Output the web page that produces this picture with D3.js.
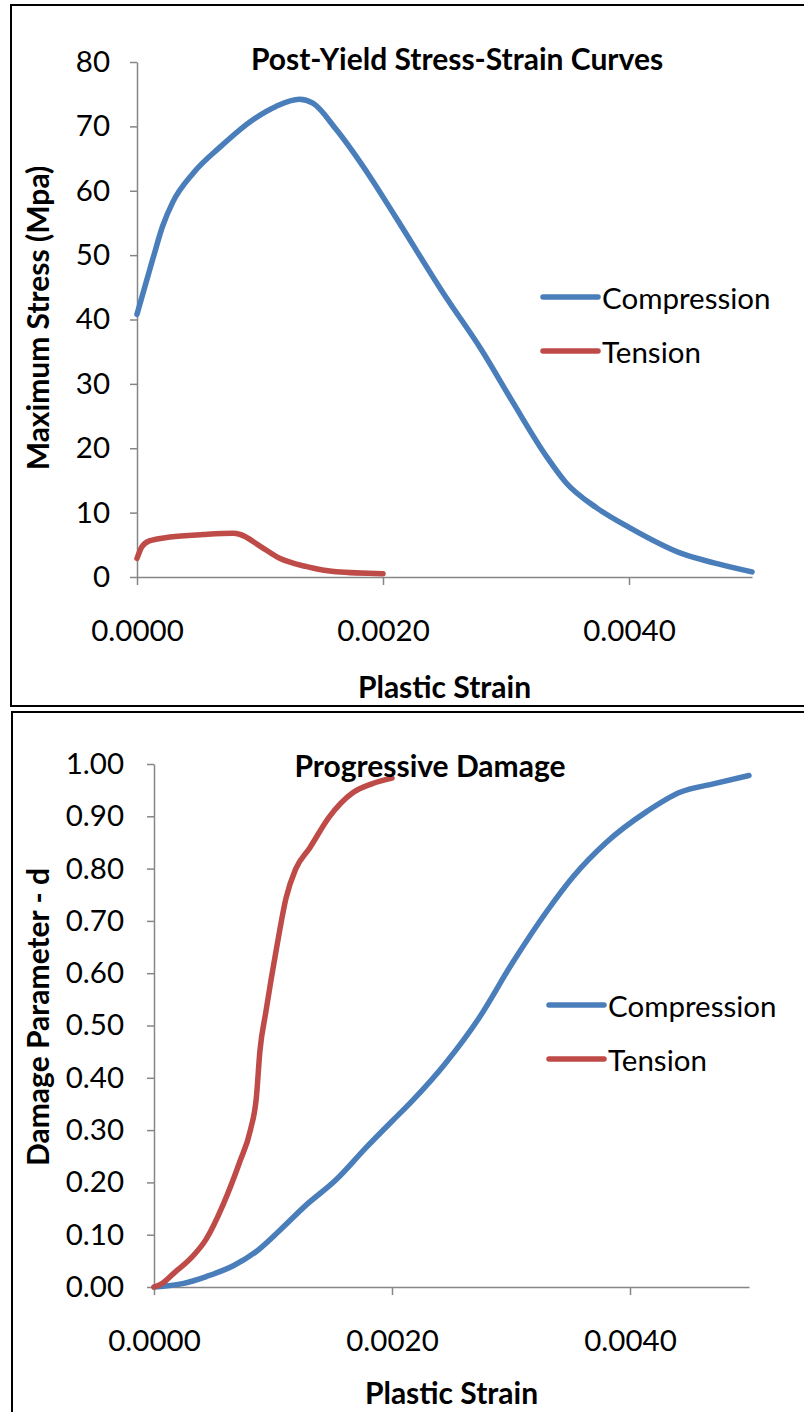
<!DOCTYPE html>
<html>
<head>
<meta charset="utf-8">
<script src="https://cdn.jsdelivr.net/npm/d3@7"></script>
<style>
  body { margin: 0; background: #fff; }
  text { font-family: Lato, "Open Sans", sans-serif; fill: #000; }
</style>
</head>
<body>
<div id="chartContainer"></div>
<script>

// chart 1 - post-yield stress vs plastic strain
var stressCompStrain = [0, 0.00013, 0.00021, 0.00029, 0.00046, 0.00067, 0.00094, 0.00113, 0.00132, 0.00143,
                        0.00162, 0.00189, 0.0021, 0.0025, 0.0028, 0.00306, 0.00333, 0.00349, 0.00374, 0.00401,
                        0.00442, 0.00469, 0.005];
var stressCompValue  = [40.8, 49.5, 54.6, 58.2, 62.8, 66.7, 71.0, 73.1, 74.2, 73.6,
                        69.5, 62.3, 56.0, 43.8, 35.3, 27.0, 18.7, 14.6, 10.7, 7.6,
                        3.7, 2.2, 0.8];
var stressTensStrain = [0, 0.00004, 0.0001, 0.00027, 0.00054, 0.00078, 0.00084, 0.001, 0.00116, 0.00138, 0.00162, 0.002];
var stressTensValue  = [2.9, 4.7, 5.6, 6.2, 6.6, 6.8, 6.6, 4.8, 2.9, 1.6, 0.8, 0.5];

// chart 2 - damage parameter vs plastic strain
var damageCompStrain = [0, 0.00025, 0.00044, 0.00067, 0.00086, 0.00106, 0.00128, 0.00153, 0.00178, 0.002,
                        0.00217, 0.00245, 0.00273, 0.00301, 0.0033, 0.00352, 0.0038, 0.00414, 0.00442, 0.0047, 0.005];
var damageCompValue  = [0, 0.007, 0.020, 0.041, 0.068, 0.109, 0.157, 0.205, 0.266, 0.317,
                        0.356, 0.428, 0.514, 0.619, 0.718, 0.784, 0.850, 0.909, 0.946, 0.962, 0.978];
var damageTensStrain = [0, 0.00007, 0.00017, 0.00031, 0.00044, 0.00058, 0.00072, 0.00081, 0.00086, 0.00089,
                        0.00094, 0.00103, 0.00111, 0.00119, 0.00131, 0.00147, 0.00167, 0.00183, 0.002];
var damageTensValue  = [0, 0.007, 0.027, 0.055, 0.092, 0.157, 0.239, 0.300, 0.362, 0.451,
                        0.526, 0.648, 0.744, 0.799, 0.840, 0.898, 0.945, 0.962, 0.973];

var seriesNames = ["Compression", "Tension"];
var seriesColors = ["#4a7ebb", "#be4b48"];

var xTicks = [0, 0.002, 0.004];
var stressTicks = [0, 10, 20, 30, 40, 50, 60, 70, 80];
var damageTicks = [0, 0.1, 0.2, 0.3, 0.4, 0.5, 0.6, 0.7, 0.8, 0.9, 1.0];

function zip(xs, ys) {
  return xs.map(function(x, i) { return {x: x, y: ys[i]}; });
}

var svg = d3.select("#chartContainer")
  .append("svg")
    .attr("width", 804)
    .attr("height", 1412);

function drawChart(cfg) {
  var g = svg.append("g");

  // outer frame, runs off the right side like the original
  g.append("rect")
    .attr("x", cfg.frame[0]).attr("y", cfg.frame[1])
    .attr("width", cfg.frame[2]).attr("height", cfg.frame[3])
    .attr("fill", "none")
    .attr("stroke", "#000")
    .attr("stroke-width", 2);

  var x = d3.scaleLinear().domain([0, 0.005]).range([cfg.left, cfg.right]);
  var y = d3.scaleLinear().domain(cfg.yDomain).range([cfg.bottom, cfg.top]);

  var xAxis = g.append("g")
    .attr("transform", "translate(0," + cfg.bottom + ")")
    .call(d3.axisBottom(x).tickValues(xTicks).tickFormat(d3.format(".4f"))
      .tickSize(8).tickSizeOuter(0).tickPadding(35));

  var yAxis = g.append("g")
    .attr("transform", "translate(" + cfg.left + ",0)")
    .call(d3.axisLeft(y).tickValues(cfg.yTicks).tickFormat(d3.format(cfg.yFormat))
      .tickSize(7).tickSizeOuter(0).tickPadding(cfg.yPad));

  [xAxis, yAxis].forEach(function(a) {
    a.select(".domain").attr("stroke", "#868686").attr("stroke-width", 1.5);
    a.selectAll(".tick line").attr("stroke", "#868686").attr("stroke-width", 1.5);
    a.selectAll(".tick text").style("font-size", "29.5px").style("font-family", "Lato").attr("fill", "#000");
  });

  var line = d3.line()
    .x(function(d) { return x(d.x); })
    .y(function(d) { return y(d.y); })
    .curve(d3.curveMonotoneX);

  cfg.series.forEach(function(s, i) {
    g.append("path")
      .datum(s)
      .attr("fill", "none")
      .attr("stroke", seriesColors[i])
      .attr("stroke-width", 5.5)
      .attr("stroke-linecap", "round")
      .attr("stroke-linejoin", "round")
      .attr("d", line);
  });

  // titles
  g.append("text")
    .attr("x", cfg.titlePos[0]).attr("y", cfg.titlePos[1])
    .attr("text-anchor", "middle").attr("dominant-baseline", "central")
    .style("font-size", "30px").style("font-weight", "bold")
    .text(cfg.title);

  g.append("text")
    .attr("x", (cfg.left + cfg.right) / 2).attr("y", cfg.xTitleY)
    .attr("text-anchor", "middle").attr("dominant-baseline", "central")
    .style("font-size", "30px").style("font-weight", "bold")
    .text("Plastic Strain");

  g.append("text")
    .attr("transform", "translate(37," + cfg.yTitleY + ") rotate(-90)")
    .attr("text-anchor", "middle").attr("dominant-baseline", "central")
    .style("font-size", "30px").style("font-weight", "bold")
    .text(cfg.yTitle);

  // legend
  seriesNames.forEach(function(name, i) {
    var ly = cfg.legend[1] + i * cfg.legendGap;
    g.append("line")
      .attr("x1", cfg.legend[0]).attr("x2", cfg.legend[0] + 55)
      .attr("y1", ly).attr("y2", ly)
      .attr("stroke", seriesColors[i])
      .attr("stroke-width", 5.5)
      .attr("stroke-linecap", "round");
    g.append("text")
      .attr("x", cfg.legend[0] + 59).attr("y", ly)
      .attr("dominant-baseline", "central")
      .style("font-size", "29.5px")
      .text(name);
  });
}

drawChart({
  frame: [11, 5, 820, 701],
  left: 137, right: 752, top: 62, bottom: 577,
  yDomain: [0, 80], yTicks: stressTicks, yFormat: "d", yPad: 20,
  series: [zip(stressCompStrain, stressCompValue), zip(stressTensStrain, stressTensValue)],
  title: "Post-Yield Stress-Strain Curves", titlePos: [457, 58],
  xTitleY: 686,
  yTitle: "Maximum Stress (Mpa)", yTitleY: 318,
  legend: [543, 297], legendGap: 54
});

drawChart({
  frame: [12, 712, 820, 720],
  left: 154, right: 749, top: 764, bottom: 1287,
  yDomain: [0, 1], yTicks: damageTicks, yFormat: ".2f", yPad: 23,
  series: [zip(damageCompStrain, damageCompValue), zip(damageTensStrain, damageTensValue)],
  title: "Progressive Damage", titlePos: [430, 765],
  xTitleY: 1392,
  yTitle: "Damage Parameter - d", yTitleY: 1017,
  legend: [549, 1005], legendGap: 54
});

</script>
</body>
</html>
